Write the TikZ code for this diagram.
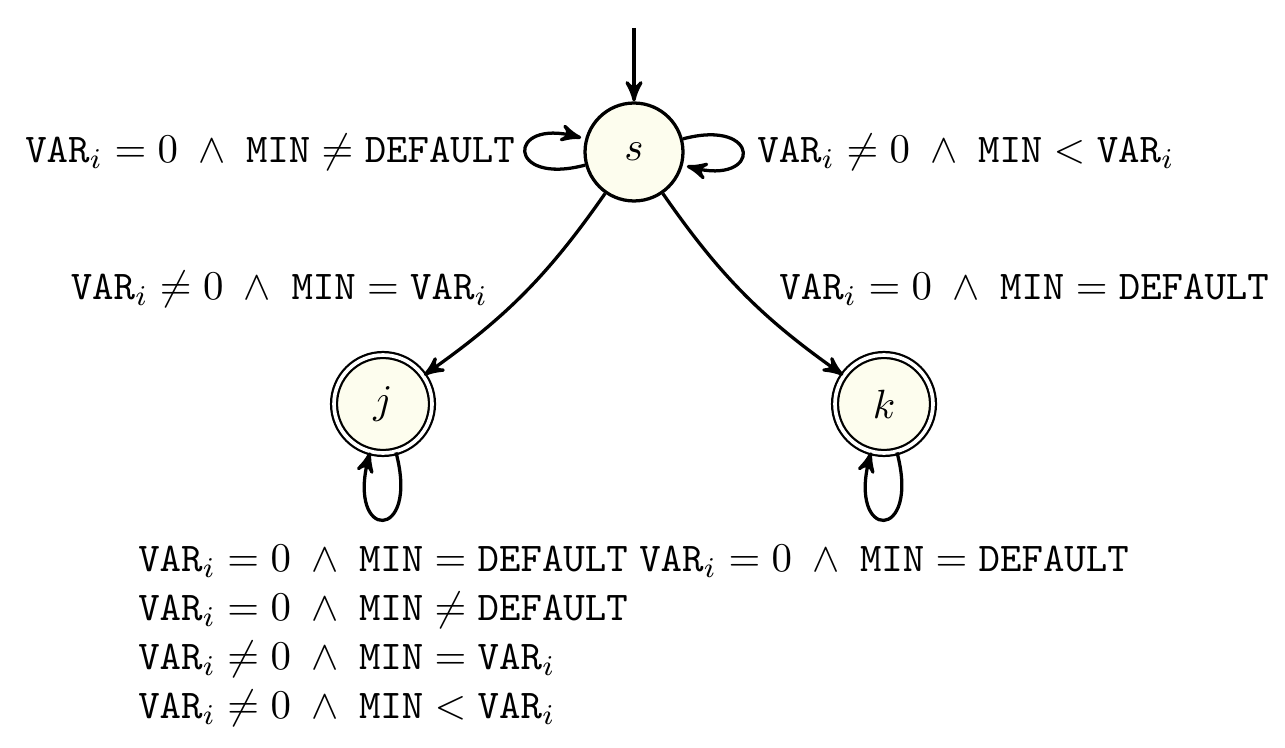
\documentclass[tikz,border=0pt]{standalone}
\usetikzlibrary{automata,arrows}
\definecolor{statefill}{RGB}{253,253,238}
\begin{document}
\begin{tikzpicture}[x=0.245pt,y=-0.245pt,
  every state/.style={draw=black,thick,fill=statefill,minimum size=24pt,inner sep=0pt},
  acc/.style={double,line width=0.55pt,double distance=0.9pt},
  tr/.style={->,>=stealth',thick}]
\useasboundingbox (0,0) rectangle (1285,748);
\node[state] (s) at (634,152) {$s$};
\node[state,acc] (j) at (383,404) {$j$};
\node[state,acc] (k) at (884,404) {$k$};
\coordinate (init) at (634,28);
\draw[tr] (init) -- (s);
\draw[tr] (s) edge[loop left] node[left,xshift=1pt] {$\mathtt{VAR}_i = 0\;\wedge\;\mathtt{MIN} \neq \mathtt{DEFAULT}$} (s);
\draw[tr] (s) edge[loop right] node[right] {$\mathtt{VAR}_i \neq 0\;\wedge\;\mathtt{MIN} < \mathtt{VAR}_i$} (s);
\draw[tr] (s) edge[bend left=10] node[left,xshift=-5pt,yshift=1pt] {$\mathtt{VAR}_i \neq 0\;\wedge\;\mathtt{MIN} = \mathtt{VAR}_i$} (j);
\draw[tr] (s) edge[bend right=10] node[right,xshift=5pt,yshift=1pt] {$\mathtt{VAR}_i = 0\;\wedge\;\mathtt{MIN} = \mathtt{DEFAULT}$} (k);
\draw[tr] (j) edge[loop below,min distance=8mm] node[below,align=left,yshift=-2.5pt] {$\mathtt{VAR}_i = 0\;\wedge\;\mathtt{MIN} = \mathtt{DEFAULT}$\\
$\mathtt{VAR}_i = 0\;\wedge\;\mathtt{MIN} \neq \mathtt{DEFAULT}$\\
$\mathtt{VAR}_i \neq 0\;\wedge\;\mathtt{MIN} = \mathtt{VAR}_i$\\
$\mathtt{VAR}_i \neq 0\;\wedge\;\mathtt{MIN} < \mathtt{VAR}_i$} (j);
\draw[tr] (k) edge[loop below,min distance=8mm] node[below,yshift=-2.5pt] {$\mathtt{VAR}_i = 0\;\wedge\;\mathtt{MIN} = \mathtt{DEFAULT}$} (k);
\end{tikzpicture}
\end{document}
